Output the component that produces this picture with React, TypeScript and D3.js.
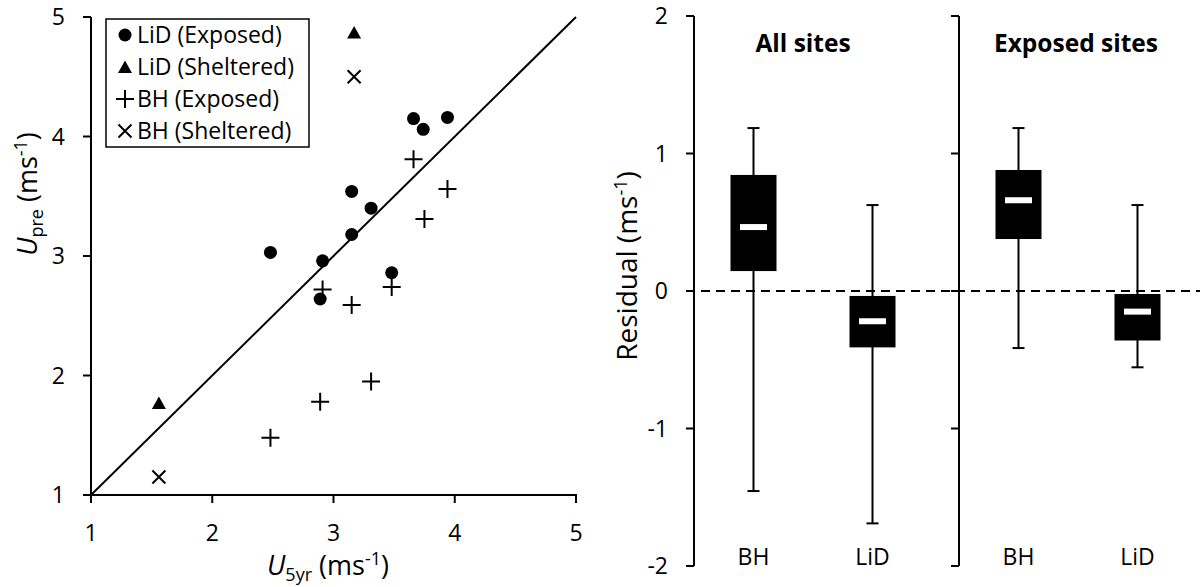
import React from "react";
import * as d3 from "d3";

// ---------- Data ----------
const scatterTicks = [1, 2, 3, 4, 5];
const lidExposed: [number, number][] = [
  [3.66, 4.15], [3.74, 4.06], [3.94, 4.16], [3.15, 3.54], [3.31, 3.40],
  [3.15, 3.18], [2.48, 3.03], [2.91, 2.96], [3.48, 2.86], [2.89, 2.64],
];
const lidSheltered: [number, number][] = [[3.17, 4.87], [1.56, 1.77]];
const bhExposed: [number, number][] = [
  [3.66, 3.81], [3.94, 3.56], [3.75, 3.31], [3.48, 2.74], [2.91, 2.72],
  [3.15, 2.59], [3.31, 1.95], [2.89, 1.78], [2.48, 1.48],
];
const bhSheltered: [number, number][] = [[3.17, 4.50], [1.56, 1.15]];
const legendLabels = ["LiD (Exposed)", "LiD (Sheltered)", "BH (Exposed)", "BH (Sheltered)"];

const boxCategories = ["BH", "LiD"];
const residualTicks = [-2, -1, 0, 1, 2];
const panelTitles = ["All sites", "Exposed sites"];
// [min, q1, median, q3, max] per category
const allSitesStats: number[][] = [
  [-1.455, 0.145, 0.465, 0.844, 1.185],
  [-1.69, -0.41, -0.22, -0.036, 0.625],
];
const exposedSitesStats: number[][] = [
  [-0.415, 0.378, 0.66, 0.88, 1.185],
  [-0.555, -0.36, -0.15, -0.022, 0.625],
];

const FONT = "'Open Sans', Lato, sans-serif";
const TICK = 23;
const LEG = 23;
const LAB = 27;
const SUB = 18;

function Marker({ kind, cx, cy }: { kind: string; cx: number; cy: number }) {
  if (kind === "circle") return <circle cx={cx} cy={cy} r={6.5} fill="#000" />;
  if (kind === "triangle")
    return <path d={`M${cx},${cy - 6.5}L${cx + 7},${cy + 6}L${cx - 7},${cy + 6}Z`} fill="#000" />;
  if (kind === "plus")
    return (
      <path d={`M${cx - 9},${cy}H${cx + 9}M${cx},${cy - 9}V${cy + 9}`} stroke="#000" strokeWidth={2} />
    );
  return (
    <path
      d={`M${cx - 6.5},${cy - 6.5}L${cx + 6.5},${cy + 6.5}M${cx - 6.5},${cy + 6.5}L${cx + 6.5},${cy - 6.5}`}
      stroke="#000"
      strokeWidth={2}
    />
  );
}

export default function App() {
  const x = d3.scaleLinear().domain([1, 5]).range([91, 576]);
  const y = d3.scaleLinear().domain([1, 5]).range([495, 17]);

  const yR = d3.scaleLinear().domain([-2, 2]).range([566, 16]);
  const panelX = [694, 959];
  const titleOffset = [109, 117];
  const xb = d3.scalePoint<string>().domain(boxCategories).range([0, 238]).padding(0.5);
  const boxW = 46;
  const capW = 12;

  const series: { kind: string; pts: [number, number][] }[] = [
    { kind: "circle", pts: lidExposed },
    { kind: "triangle", pts: lidSheltered },
    { kind: "plus", pts: bhExposed },
    { kind: "cross", pts: bhSheltered },
  ];
  const legendKinds = ["circle", "triangle", "plus", "cross"];
  const panels = [allSitesStats, exposedSitesStats];

  return (
    <svg
      width={1200}
      height={587}
      style={{ position: "absolute", left: 0, top: 0, background: "#fff" }}
      fontFamily={FONT}
    >
      <rect width={1200} height={587} fill="#fff" />
      {/* ---------- Scatter ---------- */}
      <g>
        <line x1={x(1)} y1={y(1)} x2={x(5)} y2={y(5)} stroke="#000" strokeWidth={2} />
        <line x1={x(1)} y1={y(1)} x2={x(1)} y2={y(5)} stroke="#000" strokeWidth={2} />
        <line x1={x(1) - 1} y1={y(1)} x2={x(5) + 1} y2={y(1)} stroke="#000" strokeWidth={2} />
        {scatterTicks.map((t) => (
          <g key={"yt" + t}>
            <line x1={x(1) - 8} x2={x(1)} y1={y(t)} y2={y(t)} stroke="#000" strokeWidth={2} />
            <text x={x(1) - 26} y={y(t)} dy="0.36em" textAnchor="end" fontSize={TICK}>
              {t}
            </text>
          </g>
        ))}
        {scatterTicks.map((t) => (
          <g key={"xt" + t}>
            <line x1={x(t)} x2={x(t)} y1={y(1)} y2={y(1) + 8} stroke="#000" strokeWidth={2} />
            <text x={x(t)} y={541} textAnchor="middle" fontSize={TICK}>
              {t}
            </text>
          </g>
        ))}
        <text x={328} y={575} textAnchor="middle" fontSize={LAB}>
          <tspan fontStyle="italic">U</tspan>
          <tspan fontSize={SUB} dy={6}>5yr</tspan>
          <tspan dy={-6}> (ms</tspan>
          <tspan fontSize={SUB} dy={-10}>-1</tspan>
          <tspan dy={10}>)</tspan>
        </text>
        <text transform="translate(37,194) rotate(-90)" textAnchor="middle" fontSize={LAB}>
          <tspan fontStyle="italic">U</tspan>
          <tspan fontSize={SUB} dy={6}>pre</tspan>
          <tspan dy={-6}> (ms</tspan>
          <tspan fontSize={SUB} dy={-10}>-1</tspan>
          <tspan dy={10}>)</tspan>
        </text>
        {series.map((s) =>
          s.pts.map((p, i) => <Marker key={s.kind + i} kind={s.kind} cx={x(p[0])} cy={y(p[1])} />)
        )}
        <rect x={106} y={19} width={203} height={128} fill="#fff" stroke="#000" strokeWidth={1.5} />
        {legendLabels.map((l, i) => (
          <g key={l}>
            <Marker kind={legendKinds[i]} cx={125} cy={35 + i * 32} />
            <text x={137} y={35 + i * 32} dy="0.36em" fontSize={LEG}>
              {l}
            </text>
          </g>
        ))}
      </g>

      {/* ---------- Box plots ---------- */}
      <line x1={686} x2={1200} y1={yR(0)} y2={yR(0)} stroke="#000" strokeWidth={2} strokeDasharray="9,6" />
      {panels.map((stats, pi) => {
        const ox = panelX[pi];
        return (
          <g key={"panel" + pi}>
            <line x1={ox} x2={ox} y1={yR(-2)} y2={yR(2)} stroke="#000" strokeWidth={2} />
            {residualTicks.map((t) => (
              <g key={"rt" + t}>
                <line x1={ox - 8} x2={ox} y1={yR(t)} y2={yR(t)} stroke="#000" strokeWidth={2} />
                {pi === 0 && (
                  <text x={ox - 26} y={yR(t)} dy="0.36em" textAnchor="end" fontSize={TICK}>
                    {t}
                  </text>
                )}
              </g>
            ))}
            <text x={ox + titleOffset[pi]} y={52} textAnchor="middle" fontSize={24.5} fontWeight="bold">
              {panelTitles[pi]}
            </text>
            {boxCategories.map((c, ci) => {
              const [mn, q1, md, q3, mx] = stats[ci];
              const cx = ox + (xb(c) as number);
              return (
                <g key={c}>
                  <line x1={cx} x2={cx} y1={yR(mx)} y2={yR(mn)} stroke="#000" strokeWidth={2} />
                  <line x1={cx - capW / 2} x2={cx + capW / 2} y1={yR(mx)} y2={yR(mx)} stroke="#000" strokeWidth={2} />
                  <line x1={cx - capW / 2} x2={cx + capW / 2} y1={yR(mn)} y2={yR(mn)} stroke="#000" strokeWidth={2} />
                  <rect x={cx - boxW / 2} y={yR(q3)} width={boxW} height={yR(q1) - yR(q3)} fill="#000" />
                  <rect x={cx - 13.5} y={yR(md) - 3} width={27} height={6} fill="#fff" />
                  <text x={cx} y={565} textAnchor="middle" fontSize={TICK}>
                    {c}
                  </text>
                </g>
              );
            })}
          </g>
        );
      })}
      <text transform="translate(637,266) rotate(-90)" textAnchor="middle" fontSize={28}>
        Residual (ms
        <tspan fontSize={SUB} dy={-10}>-1</tspan>
        <tspan dy={10}>)</tspan>
      </text>
    </svg>
  );
}
